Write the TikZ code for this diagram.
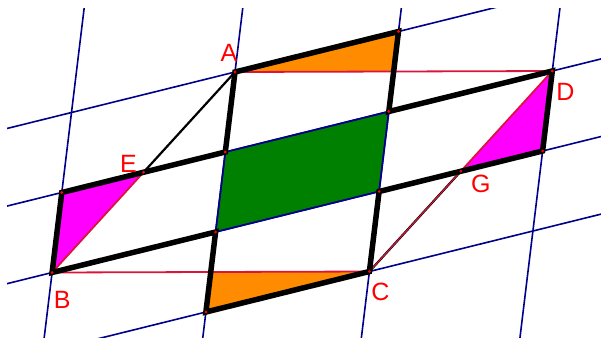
\documentclass[tikz,border=0pt]{standalone}
\usepackage{fontspec}
\setmainfont{Liberation Sans}
\usetikzlibrary{calc,positioning}
\definecolor{gridblue}{RGB}{0,0,139}
\definecolor{segred}{RGB}{220,20,60}
\definecolor{labelred}{RGB}{255,0,0}
\definecolor{patchorange}{RGB}{255,140,0}
\definecolor{patchgreen}{RGB}{0,128,0}
\definecolor{patchmagenta}{RGB}{255,0,255}
\tikzset{
  gridline/.style={draw=gridblue, line width=1.6pt},
  redseg/.style={draw=segred, line width=1.8pt},
  heavy/.style={draw=black, line width=5.5pt, line join=miter},
  thinblack/.style={draw=black, line width=2.2pt},
  orangepatch/.style={fill=patchorange},
  greenpatch/.style={fill=patchgreen, draw=gridblue, line width=1.6pt},
  magpatch/.style={fill=patchmagenta},
  vertexdot/.style={fill=labelred},
  lbl/.style={text=labelred, font=\fontsize{25}{30}\selectfont, inner sep=0pt}
}

\begin{document}
\begin{tikzpicture}[x=1pt, y=-1pt]
  \useasboundingbox (0,0) rectangle (601,338);
  % lattice points p<i><j>
  \foreach \i in {-3,...,4}
    \foreach \j in {-3,...,6}
      \coordinate (p\i\j) at ({235+163.5*\i-9.7*\j},{72-40.5*\i+80*\j});

  \coordinate (A) at (p00);
  \coordinate (B) at (p-12);
  \coordinate (C) at (p13);
  \coordinate (D) at (p21);
  \coordinate (E) at ($(A)!0.5!(B)$);
  \coordinate (G) at ($(C)!0.5!(D)$);

  % coloured pieces
  \fill[orangepatch] (A) -- (p10) -- ($(p10)!0.5!(p11)$) -- cycle;
  \fill[orangepatch] (p03) -- (C) -- ($(p02)!0.5!(p03)$) -- cycle;
  \path[greenpatch] (p01) -- (p11) -- (p12) -- (p02) -- cycle;
  \fill[magpatch] (B) -- (p-11) -- (E) -- cycle;
  \fill[magpatch] (D) -- (p22) -- (G) -- cycle;

  % grid
  \begin{scope}
    \clip (7,8) rectangle (601,337);
    \foreach \j in {0,...,3}
      \draw[gridline] (p-3\j) -- (p4\j);
    \foreach \i in {-1,...,2}
      \draw[gridline] (p\i-3) -- (p\i6);
  \end{scope}

  % parallelogram ABCD
  \draw[redseg] (A) -- (D);
  \draw[redseg] (B) -- (C);
  \draw[redseg] (E) -- (B);
  \draw[redseg] (D) -- (G);
  \draw[thinblack] (A) -- (E);
  \draw[thinblack] (C) -- (G);
  \draw[redseg, line width=1.1pt] (C) -- (G);

  \draw[heavy] (A) -- (p10) -- (p11) -- (D) -- (p22) -- (p12) -- (C)
    -- (p03) -- (p02) -- (B) -- (p-11) -- (p01) -- cycle;

  \foreach \q in {A,B,C,D,E,G,p10,p11,p22,p12,p03,p02,p-11,p01}
    \fill[vertexdot] (\q) circle (1.6);

  % labels
  \node[lbl] (labA) at ($(A)+(-6,-19)$) {A};
  \node[lbl] (labB) at ($(B)+(10,27.5)$) {B};
  \node[lbl] (labC) at ($(C)+(11,20.5)$) {C};
  \node[lbl] (labD) at ($(D)+(13,21)$) {D};
  \node[lbl] (labE) at ($(E)+(-15,-8)$) {E};
  \node[lbl] (labG) at ($(G)+(20,13)$) {G};
\end{tikzpicture}
\end{document}
